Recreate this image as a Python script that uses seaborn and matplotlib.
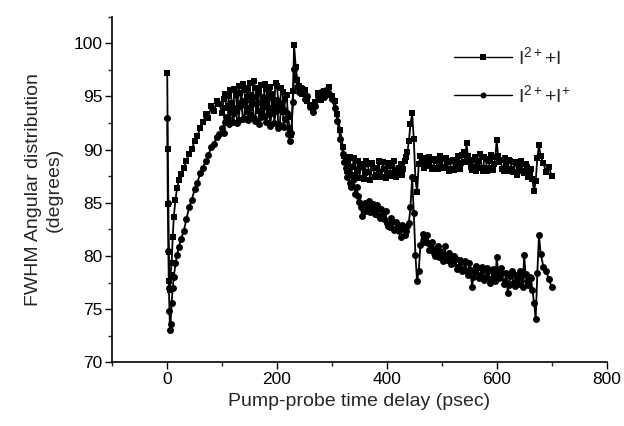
import numpy as np
import pandas as pd
import seaborn as sns
import matplotlib
matplotlib.use("Agg")
import matplotlib.pyplot as plt
from matplotlib.ticker import MultipleLocator

# ---------------- data ----------------
delay = [0, 1, 2, 3, 4, 5, 6, 8, 10, 12, 15, 18, 21, 25,
         30, 35, 40, 45, 50, 55, 60, 65, 70, 75, 80, 85, 90, 95,
         100, 102.5, 105, 107.5, 110, 112.5, 115, 117.5, 120, 122.5, 125, 127.5, 130, 132.5,
         135, 137.5, 140, 142.5, 145, 147.5, 150, 152.5, 155, 157.5, 160, 162.5, 165, 167.5,
         170, 172.5, 175, 177.5, 180, 182.5, 185, 187.5, 190, 192.5, 195, 197.5, 200, 202.5,
         205, 207.5, 210, 212.5, 215, 217.5, 220,
         223, 226, 229, 231, 234, 237,
         240, 245, 250, 255, 260, 265, 270, 275, 280, 285, 290, 295, 300, 305, 310, 315,
         320, 322.5, 325, 327.5, 330, 332.5, 335, 337.5, 340, 342.5, 345, 347.5, 350, 352.5,
         355, 357.5, 360, 362.5, 365, 367.5, 370, 372.5, 375, 377.5, 380, 382.5, 385, 387.5,
         390, 392.5, 395, 397.5, 400, 402.5, 405, 407.5, 410, 412.5, 415, 417.5, 420, 422.5,
         425, 427.5, 430, 432.5, 435, 437.5, 440,
         443, 446, 449, 452, 455, 458, 461,
         465, 467.5, 470, 472.5, 475, 477.5, 480, 482.5, 485, 487.5, 490, 492.5, 495, 497.5,
         500, 502.5, 505, 507.5, 510, 512.5, 515, 517.5, 520, 522.5, 525, 527.5, 530, 532.5,
         535, 537.5, 540, 542.5, 545, 547.5, 550, 552.5, 555, 557.5, 560, 562.5, 565, 567.5,
         570, 572.5, 575, 577.5, 580, 582.5, 585, 587.5, 590, 592.5, 595, 597.5, 600, 602.5,
         605, 607.5, 610, 612.5, 615, 617.5, 620, 622.5, 625, 627.5, 630, 632.5, 635, 637.5,
         640, 642.5, 645, 647.5, 650, 652.5, 655, 657.5, 660, 662.5, 665,
         668, 671, 674, 677, 680,
         685, 690, 695, 700]

fwhm_i2_i = [97.2, 90.1, 84.9, 80.4, 77.6, 76.8, 78.2, 79.3, 81.8, 83.7, 85.3, 86.4, 87.1, 87.7,
             88.3, 88.9, 89.6, 90.1, 90.8, 91.3, 92.0, 92.6, 93.3, 93.0, 94.1, 93.6, 94.6, 94.3,
             93.4, 94.8, 95.2, 93.9, 94.1, 95.0, 95.6, 94.4, 93.8, 95.7, 95.1, 93.6, 96.0, 95.3,
             94.2, 96.2, 95.6, 94.6, 93.5, 95.8, 96.3, 93.9, 94.4, 96.4, 95.8, 94.9, 93.6, 95.5,
             96.1, 93.4, 94.0, 96.2, 95.7, 94.5, 93.3, 95.9, 95.2, 93.9, 94.5, 96.3, 96.0, 94.2,
             93.7, 95.8, 95.4, 93.5, 94.8, 95.1, 93.1,
             92.0, 91.4, 95.5, 99.8, 97.8, 96.5,
             96.0, 95.2, 95.6, 94.6, 94.2, 93.7, 94.5, 95.3, 94.7, 95.5, 95.1, 95.9, 95.0, 94.6,
             93.3, 91.8,
             90.2, 89.4, 89.0, 88.0, 88.6, 89.3, 87.6, 88.4, 89.2, 87.5, 88.1, 88.9, 87.3, 88.6,
             88.4, 87.2, 87.8, 88.9, 88.6, 87.9, 87.1, 88.7, 88.3, 87.4, 87.6, 88.3, 88.9, 87.9,
             87.4, 88.8, 88.2, 87.3, 87.7, 88.7, 88.5, 87.8, 87.5, 88.9, 88.1, 87.4, 87.8, 88.3,
             88.6, 87.6, 88.2, 88.9, 89.3, 89.8, 90.8,
             92.4, 93.4, 91.0, 87.2, 86.0, 88.6, 89.4,
             88.8, 88.3, 89.2, 88.7, 88.5, 89.3, 89.0, 88.2, 88.3, 89.1, 88.9, 88.2, 88.6, 89.4,
             89.1, 88.3, 88.4, 89.2, 88.8, 88.0, 88.2, 88.9, 89.0, 88.1, 88.5, 89.0, 89.4, 88.2,
             88.7, 89.5, 89.8, 88.8, 90.6, 89.4, 88.9, 88.4, 88.1, 89.0, 89.3, 88.0, 88.4, 88.9,
             89.6, 88.3, 88.0, 89.3, 89.1, 88.0, 88.3, 88.9, 89.5, 88.1, 88.6, 89.3, 90.9, 89.4,
             88.8, 89.0, 88.2, 88.0, 89.2, 88.5, 88.0, 89.0, 88.9, 88.2, 87.9, 88.8, 88.7, 87.6,
             88.1, 88.5, 88.9, 88.0, 87.8, 88.6, 88.4, 87.4, 87.6, 88.2, 87.2,
             86.1, 87.0, 89.2, 90.4, 89.4,
             88.7, 87.9, 88.4, 87.5]

fwhm_i2_iplus = [93.0, 85.0, 80.5, 77.0, 74.8, 73.0, 73.6, 75.6, 77.0, 78.0, 79.3, 80.1, 80.8, 81.6,
                 82.3, 83.5, 84.6, 85.3, 86.3, 86.9, 87.8, 88.3, 88.9, 89.5, 90.2, 90.5, 91.2, 91.5,
                 92.0, 91.6, 92.6, 93.1, 93.0, 92.4, 93.5, 94.0, 92.6, 93.4, 93.9, 92.5, 92.8, 94.1,
                 94.5, 92.9, 93.0, 94.6, 95.0, 92.8, 93.3, 95.1, 94.8, 93.0, 92.7, 94.3, 95.3, 92.4,
                 93.1, 94.6, 94.9, 93.2, 92.6, 94.0, 95.2, 92.2, 93.4, 94.8, 92.5, 93.6, 94.7, 92.0,
                 92.3, 94.4, 93.8, 92.1, 92.9, 93.4, 91.5,
                 90.8, 91.6, 94.5, 97.6, 96.6, 95.9,
                 95.4, 95.8, 94.8, 95.0, 94.0, 93.5, 94.1, 95.0, 95.4, 94.9, 95.6, 95.2, 94.8, 93.9,
                 92.7, 91.0,
                 89.6, 88.8, 88.3, 87.4, 87.8, 86.9, 86.5, 87.5, 87.2, 85.8, 86.5, 85.6, 85.1, 84.6,
                 83.8, 84.9, 85.0, 84.2, 84.6, 85.2, 84.1, 84.5, 84.9, 83.9, 84.3, 84.8, 83.8, 83.6,
                 84.4, 83.9, 83.5, 84.2, 83.1, 82.8, 82.7, 83.6, 83.3, 82.4, 82.5, 83.2, 82.9, 82.3,
                 81.8, 82.9, 82.6, 82.0, 82.3, 82.8, 83.1,
                 84.6, 87.4, 84.0, 80.1, 77.6, 78.6, 81.0,
                 82.1, 81.3, 81.6, 82.0, 81.2, 80.6, 80.8, 81.3, 80.3, 80.0, 80.6, 80.9, 79.9, 80.5,
                 80.2, 79.5, 80.9, 80.1, 79.6, 80.3, 79.9, 79.2, 79.3, 80.0, 79.7, 78.8, 79.0, 79.6,
                 79.4, 78.6, 78.8, 79.5, 78.6, 78.2, 79.3, 78.7, 77.1, 78.0, 78.5, 79.1, 78.9, 77.9,
                 78.2, 79.0, 78.7, 77.7, 78.0, 78.9, 78.6, 77.5, 77.8, 78.8, 78.3, 77.6, 79.9, 78.5,
                 77.9, 78.9, 78.4, 77.4, 77.6, 78.4, 76.5, 77.3, 78.1, 78.6, 77.5, 77.2, 78.2, 77.8,
                 77.4, 78.6, 78.0, 77.1, 80.1, 78.3, 77.6, 77.3, 78.0, 77.9, 76.8,
                 75.6, 74.1, 78.4, 82.0, 80.2,
                 79.0, 78.6, 77.8, 77.1]

assert len(delay) == len(fwhm_i2_i) == len(fwhm_i2_iplus), (len(delay), len(fwhm_i2_i), len(fwhm_i2_iplus))

series_labels = [r"I$^{2+}$+I", r"I$^{2+}$+I$^{+}$"]
x_ticks = [0, 200, 400, 600, 800]
y_ticks = [70, 75, 80, 85, 90, 95, 100]

# ---------------- figure ----------------
sns.set_style("ticks")
plt.rcParams["font.family"] = ["Liberation Sans", "DejaVu Sans"]
plt.rcParams["mathtext.fontset"] = "custom"
plt.rcParams["mathtext.rm"] = "Liberation Sans"
plt.rcParams["mathtext.it"] = "Liberation Sans"
plt.rcParams["mathtext.default"] = "regular"

fig = plt.figure(figsize=(6.24, 4.26), dpi=100)
ax = fig.add_axes([0.180, 0.1495, 0.792, 0.8115])

df1 = pd.DataFrame({"delay": delay, "fwhm": fwhm_i2_i})
df2 = pd.DataFrame({"delay": delay, "fwhm": fwhm_i2_iplus})

sns.lineplot(data=df1, x="delay", y="fwhm", ax=ax, color="black", linewidth=1.3,
             marker="s", markersize=5.0, markeredgewidth=0, label=series_labels[0],
             estimator=None, sort=False)
sns.lineplot(data=df2, x="delay", y="fwhm", ax=ax, color="black", linewidth=1.3,
             marker="o", markersize=5.0, markeredgewidth=0, label=series_labels[1],
             estimator=None, sort=False)

ax.set_xlim(-100, 800)
ax.set_ylim(70, 102.5)
ax.set_xticks(x_ticks)
ax.set_yticks(y_ticks)
ax.xaxis.set_minor_locator(MultipleLocator(100))
ax.yaxis.set_minor_locator(MultipleLocator(2.5))
ax.tick_params(which="major", direction="out", length=5, width=1, labelsize=12.5,
               colors="black", pad=2)
ax.tick_params(which="minor", direction="out", length=3, width=1)
for s in ["top", "right"]:
    ax.spines[s].set_visible(False)
for s in ["left", "bottom"]:
    ax.spines[s].set_linewidth(1.2)
    ax.spines[s].set_color("black")

ax.set_xlabel("Pump-probe time delay (psec)", fontsize=14, labelpad=4)
ax.set_ylabel("FWHM Angular distribution\n(degrees)", fontsize=14, labelpad=8,
              linespacing=1.3)

leg = ax.legend(loc="upper left", bbox_to_anchor=(0.691, 0.914), frameon=False,
                fontsize=14, handlelength=3.0, handletextpad=0.3, labelspacing=0.8,
                borderaxespad=0, borderpad=0, numpoints=1, markerscale=0.85)
for h in leg.get_lines():
    h.set_linewidth(1.0)

fig.savefig("out.png", dpi=100)
